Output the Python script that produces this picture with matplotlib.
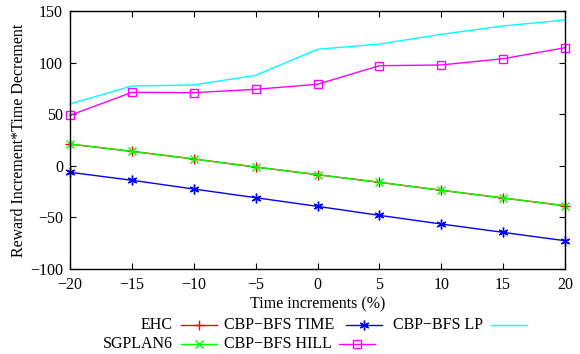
import matplotlib
matplotlib.use('Agg')
import matplotlib.pyplot as plt
from matplotlib.lines import Line2D

x = [-20, -15, -10, -5, 0, 5, 10, 15, 20]
ehc = [21, 14, 6.6, -1.2, -8.6, -16, -23.7, -31.2, -38.7]
cbp_time = [-6.3, -14, -22.5, -30.9, -39.3, -48, -56.4, -64.5, -72.6]
cbp_lp = [60, 77.3, 78.3, 87.7, 112.9, 118, 127.4, 135.5, 141.3]
sgplan6 = [21.1, 14, 6.6, -1.2, -8.6, -16, -23.7, -31.2, -38.7]
cbp_hill = [48.9, 71.2, 70.9, 74.1, 79, 97, 97.7, 103.8, 114.4]

plt.rcParams['font.family'] = 'Liberation Serif'
plt.rcParams['font.size'] = 11.5

W, H = 580, 354
fig = plt.figure(figsize=(W / 100, H / 100), dpi=100)
ax = fig.add_axes([70 / W, 1 - 269 / H, 495 / W, 258 / H])

lw = 1.0
styles = {
    'EHC': dict(color='#ff0000', marker='+', ms=7, mew=1),
    'CBP\u2212BFS TIME': dict(color='#0000ff', marker=(6, 2, 0), ms=7, mew=1),
    'CBP\u2212BFS LP': dict(color='#00ffff'),
    'SGPLAN6': dict(color='#00ff00', marker='x', ms=6, mew=1),
    'CBP\u2212BFS HILL': dict(color='#ff00ff', marker='s', ms=5.5, mfc='none', mew=1),
}
series = [('EHC', ehc), ('CBP\u2212BFS TIME', cbp_time), ('CBP\u2212BFS LP', cbp_lp),
          ('SGPLAN6', sgplan6), ('CBP\u2212BFS HILL', cbp_hill)]
for name, vals in series:
    ax.plot(x, vals, lw=lw, clip_on=False, **styles[name])

ax.set_xlim(-20, 20)
ax.set_ylim(-100, 150)
ax.set_xticks(x)
ax.set_xticklabels([str(v).replace('-', '\u2212') for v in x])
yt = [-100, -50, 0, 50, 100, 150]
ax.set_yticks(yt)
ax.set_yticklabels([str(v).replace('-', '\u2212') for v in yt])
ax.tick_params(direction='in', top=True, right=True, length=4.5, width=0.8)
ax.tick_params(axis='x', pad=6)
ax.tick_params(axis='y', pad=5)
for s in ax.spines.values():
    s.set_linewidth(1.0)

ax.set_xlabel('Time increments (%)', labelpad=2)
ax.set_ylabel('Reward Increment*Time Decrement', labelpad=2)

# gnuplot-style key: label then sample
key = [
    ('EHC', 173, 'right', 181, 325),
    ('CBP\u2212BFS TIME', 224, 'left', 346, 325),
    ('CBP\u2212BFS LP', 393, 'left', 491, 325),
    ('SGPLAN6', 173, 'right', 181, 344),
    ('CBP\u2212BFS HILL', 224, 'left', 339, 344),
]
for name, tx, ha, sx, ty in key:
    fig.text(tx / W, 1 - ty / H, name, ha=ha, va='center')
    st = styles[name]
    fig.add_artist(Line2D([sx / W, (sx + 36) / W], [1 - ty / H] * 2, lw=lw,
                          color=st['color']))
    if 'marker' in st:
        fig.add_artist(Line2D([(sx + 18) / W], [1 - ty / H], lw=0, **st))

fig.savefig('out.png', dpi=100)
